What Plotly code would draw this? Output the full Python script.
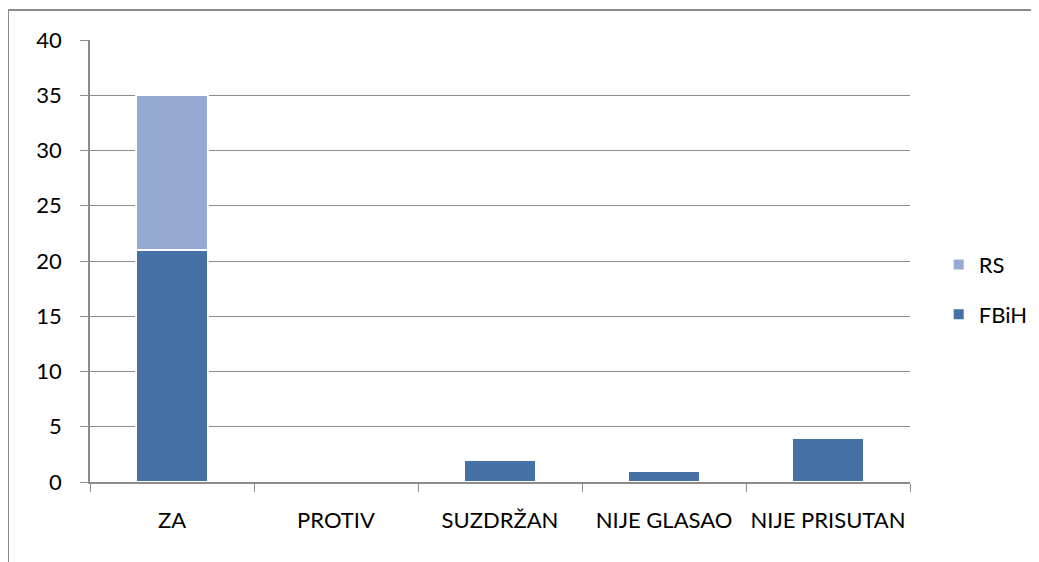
import plotly.graph_objects as go

categories = ['ZA', 'PROTIV', 'SUZDRŽAN', 'NIJE GLASAO', 'NIJE PRISUTAN']
fbih = [21, 0, 2, 1, 4]
rs = [14, 0, 0, 0, 0]

fig = go.Figure()
fig.add_trace(go.Bar(x=categories, y=fbih, name='FBiH', legendgroup='a', legendrank=2,
                     marker=dict(color='#4571A7', line=dict(color='white', width=2))))
fig.add_trace(go.Bar(x=categories, y=rs, name='RS', legendgroup='b', legendrank=1,
                     marker=dict(color='#95A9D2', line=dict(color='white', width=2))))

# outer frame (top + left only, like the cropped original)
fig.add_shape(type='line', xref='paper', yref='paper', x0=-0.1, x1=1.2, y0=1.068, y1=1.068,
              line=dict(color='#8c8c8c', width=2))
fig.add_shape(type='line', xref='paper', yref='paper', x0=-0.1, x1=-0.1, y0=1.068, y1=-0.3,
              line=dict(color='#8c8c8c', width=2))

# page body has an 8px margin, so margins are shifted by 8
fig.update_layout(
    barmode='stack', bargap=0.56,
    width=1039, height=562,
    margin=dict(l=82, r=137, t=32, b=88),
    plot_bgcolor='white', paper_bgcolor='white',
    font=dict(family='Lato', size=22, color='black'),
    legend=dict(x=1.035, y=0.435, yanchor='middle', traceorder='grouped',
                tracegroupgap=18, font=dict(size=22)),
)
fig.update_yaxes(range=[0, 40], dtick=5, showgrid=True, gridcolor='#8c8c8c', gridwidth=1,
                 showline=True, linecolor='#8c8c8c', linewidth=1.5,
                 ticks='outside', ticklen=8, tickcolor='#8c8c8c', zeroline=False,
                 ticklabelstandoff=14)
fig.update_xaxes(showline=True, linecolor='#8c8c8c', linewidth=2,
                 ticks='outside', ticklen=8, tickcolor='#8c8c8c', tickson='boundaries',
                 ticklabelstandoff=18)

fig.write_html('out.html')
